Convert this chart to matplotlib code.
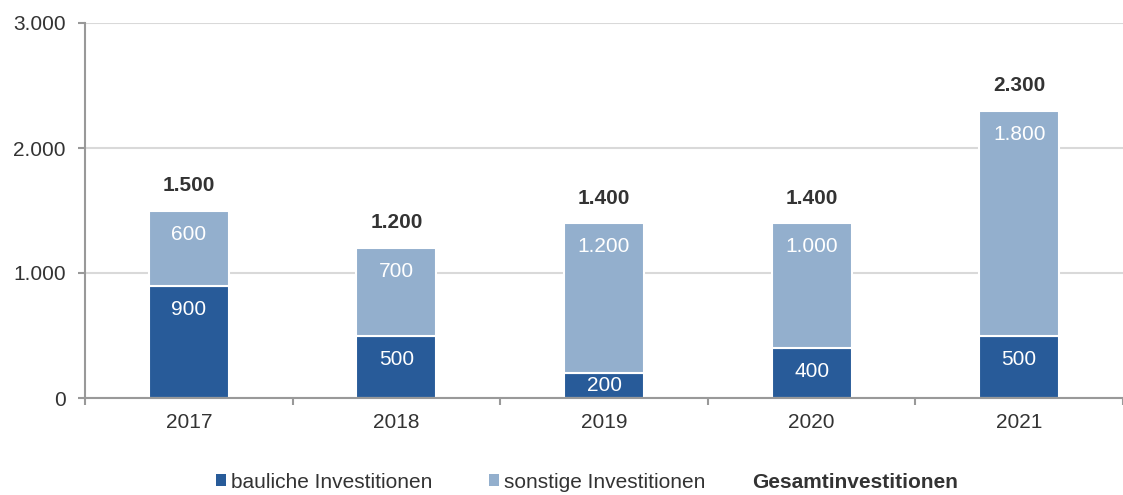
import matplotlib
matplotlib.use("Agg")
import matplotlib.pyplot as plt
from matplotlib.patches import Patch
from matplotlib.ticker import FuncFormatter, FixedLocator

years = ["2017", "2018", "2019", "2020", "2021"]
bauliche = [900, 500, 200, 400, 500]
sonstige = [600, 700, 1200, 1000, 1800]
gesamt = [1500, 1200, 1400, 1400, 2300]
yticks = [0, 1000, 2000, 3000]

c_dark = "#285b99"
c_light = "#93afcd"
c_text = "#333333"
c_axis = "#999999"
FS = 15

plt.rcParams['font.family'] = ['Liberation Sans', 'DejaVu Sans']

def de(v):
    return f"{int(v):,}".replace(",", ".")

fig = plt.figure(figsize=(11.23, 4.95), dpi=100)
ax = fig.add_axes([85/1123, 1-398/495, (1123-85)/1123, (398-23)/495])

x = list(range(len(years)))
w = 0.385
ax.bar(x, bauliche, width=w, color=c_dark, edgecolor="white", linewidth=1.5, zorder=3)
ax.bar(x, sonstige, width=w, bottom=bauliche, color=c_light, edgecolor="white", linewidth=1.5, zorder=3)

def off(seg):
    return min(190, seg / 2)

for i in x:
    ax.text(i, bauliche[i] - off(bauliche[i]), de(bauliche[i]), ha="center", va="center",
            color="white", fontsize=FS, zorder=4)
    ax.text(i, bauliche[i] + sonstige[i] - off(sonstige[i]), de(sonstige[i]), ha="center", va="center",
            color="white", fontsize=FS, zorder=4)
    ax.text(i, gesamt[i] + 200, de(gesamt[i]), ha="center", va="center", color=c_text, fontsize=FS,
            fontweight="bold", zorder=4)

ax.set_xlim(-0.5, len(years) - 0.5)
ax.set_ylim(0, 3000)
ax.set_yticks(yticks)
ax.yaxis.set_major_formatter(FuncFormatter(lambda v, p: de(v)))
ax.set_xticks(x)
ax.set_xticklabels(years)
ax.xaxis.set_minor_locator(FixedLocator([i - 0.5 for i in range(len(years) + 1)]))
ax.tick_params(axis="x", which="major", length=0, pad=11, labelsize=FS, labelcolor=c_text)
ax.tick_params(axis="x", which="minor", length=5, color=c_axis, width=1.5)
ax.tick_params(axis="y", length=5, color=c_axis, width=1.5, labelsize=FS, labelcolor=c_text, pad=9)

ax.grid(axis="y", color="#d9d9d9", linewidth=1.5, zorder=0)
ax.set_axisbelow(True)
for s in ["top", "right"]:
    ax.spines[s].set_visible(False)
for s in ["left", "bottom"]:
    ax.spines[s].set_color(c_axis)
    ax.spines[s].set_linewidth(1.5)
    ax.spines[s].set_zorder(5)

handles = [Patch(facecolor=c_dark), Patch(facecolor=c_light)]
labels = ["bauliche Investitionen", "sonstige Investitionen"]
leg = fig.legend(handles, labels, loc="center left", bbox_to_anchor=(216/1123, 1-482/495), ncol=2,
                 frameon=False, fontsize=FS, handlelength=0.48, handleheight=0.48, handletextpad=0.25,
                 columnspacing=2.7, labelcolor=c_text, borderpad=0, borderaxespad=0)
fig.text(752/1123, 1-482/495, "Gesamtinvestitionen", ha="left", va="center", fontsize=FS,
         fontweight="bold", color=c_text)

fig.savefig("out.png", dpi=100)
